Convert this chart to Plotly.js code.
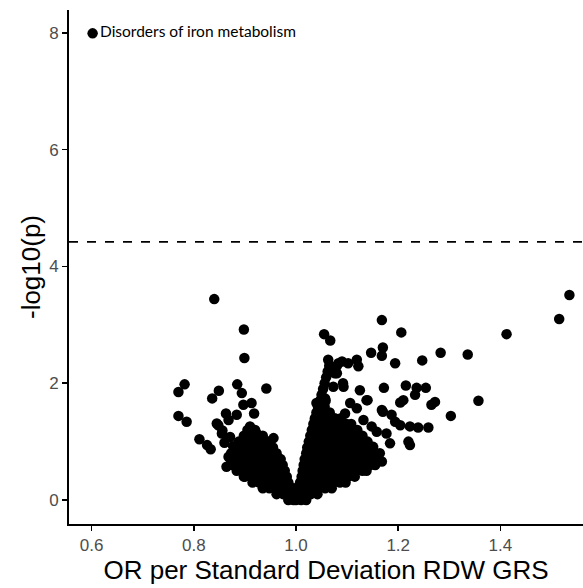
<!DOCTYPE html>
<html>
<head>
<meta charset="utf-8">
<script src="https://cdn.plot.ly/plotly-3.0.1.min.js"></script>
<style>
  html, body { margin: 0; padding: 0; background: #ffffff; }
  #chart { width: 583px; height: 588px; }
</style>
</head>
<body>
<div id="chart"></div>
<script>
// ---- Data (OR per SD of RDW GRS vs -log10(p)) ----
// Labelled top hit
const labelText = "Disorders of iron metabolism";
const labelOR = 0.602;
const labelLogP = 7.99;

// Scattered phenotypes (left of OR = 1)
const leftOR   = [0.840,0.898,0.899,0.782,0.770,0.849,0.836,0.885,0.894,0.942,0.770,0.786,0.811,0.826,0.833,0.863,0.868,0.884,0.897,0.913,0.918,0.910,0.848,0.855,0.956,0.923,0.845,0.856,0.868,0.864,0.900,0.871,0.877,0.860];
const leftLogP = [3.44, 2.92, 2.43, 1.98, 1.85, 1.87, 1.74, 1.98, 1.83, 1.91, 1.44, 1.34, 1.04, 0.94, 0.87, 1.48, 1.37, 1.46, 1.63, 1.66, 1.48, 1.26, 1.28, 1.14, 1.06, 1.14, 1.31, 1.19, 0.74, 0.57, 0.40, 1.08, 0.92, 0.98];

// Scattered phenotypes (right of OR = 1)
const rightOR   = [1.168,1.535,1.515,1.412,1.206,1.055,1.067,1.147,1.170,1.168,1.194,1.247,1.283,1.336,1.357,1.303,1.272,1.265,1.254,1.236,1.233,1.215,1.204,1.210,1.172,1.140,1.125,1.170,1.187,1.132,1.204,1.223,1.239,1.259,1.220,1.223,1.168,1.063,1.083,1.102,1.119,1.122,1.076,1.093,1.073,1.040,1.057,1.106,1.119,1.096,1.037,1.067,1.106,1.148,1.158,1.177,1.184,1.151,1.138,1.164,1.080,1.092,1.138,1.168,1.090,1.080,1.194];
const rightLogP = [3.08, 3.51, 3.10, 2.84, 2.87, 2.84, 2.73, 2.52, 2.61, 2.47, 2.34, 2.39, 2.52, 2.49, 1.70, 1.44, 1.68, 1.63, 1.92, 1.92, 1.80, 1.96, 1.67, 1.71, 1.92, 1.71, 1.88, 1.51, 1.46, 1.37, 1.28, 1.26, 1.24, 1.24, 1.00, 0.94, 0.66, 2.40, 2.34, 2.34, 2.40, 2.29, 2.17, 1.94, 1.94, 1.66, 1.74, 1.66, 1.57, 1.48, 1.37, 1.31, 1.28, 1.26, 1.17, 1.14, 0.97, 0.91, 0.80, 0.80, 2.17, 2.00, 1.71, 1.54, 2.37, 2.30, 1.34];

// Dense bulk near OR = 1, read row by row (-log10(p) level, ORs at that level)
const bulkLevels = [0.0,0.1,0.2,0.3,0.4,0.5,0.6,0.7,0.8,0.9,1.0,1.1,1.2,1.3,1.4,1.5,1.6,1.7,1.8,1.9,2.0,2.1,2.2,2.3];
const bulkLeftOR = [
  [0.985,0.995],
  [0.962,0.975,0.988,0.995],
  [0.935,0.948,0.961,0.974,0.987,0.995],
  [0.915,0.928,0.941,0.954,0.967,0.980,0.985],
  [0.898,0.911,0.924,0.937,0.950,0.963,0.976,0.982],
  [0.884,0.897,0.910,0.923,0.936,0.949,0.962,0.975,0.978],
  [0.876,0.889,0.902,0.915,0.928,0.941,0.954,0.967,0.974],
  [0.872,0.885,0.898,0.911,0.924,0.937,0.950,0.962,0.970],
  [0.873,0.886,0.899,0.912,0.925,0.938,0.951,0.962],
  [0.880,0.893,0.906,0.919,0.932,0.945,0.955],
  [0.888,0.901,0.914,0.927,0.940,0.946],
  [0.898,0.911,0.924,0.935],
  [0.905,0.920],
  [],[],[],[],[],[],[],[],[],[],[]
];
const bulkRightOR = [
  [1.000,1.010,1.020],
  [1.000,1.003,1.016,1.029,1.042],
  [1.000,1.005,1.018,1.031,1.044,1.057,1.070],
  [1.008,1.021,1.034,1.047,1.060,1.073,1.086,1.097],
  [1.011,1.024,1.037,1.050,1.063,1.076,1.089,1.102,1.115],
  [1.013,1.026,1.039,1.052,1.065,1.078,1.091,1.104,1.117,1.130,1.138],
  [1.015,1.028,1.041,1.054,1.067,1.080,1.093,1.106,1.119,1.132,1.145,1.155],
  [1.017,1.030,1.043,1.056,1.069,1.082,1.095,1.108,1.121,1.134,1.145,1.152],
  [1.020,1.033,1.046,1.059,1.072,1.085,1.098,1.111,1.124,1.137,1.148],
  [1.022,1.035,1.048,1.061,1.074,1.087,1.100,1.113,1.126,1.139,1.146],
  [1.025,1.038,1.051,1.064,1.077,1.090,1.103,1.116,1.129,1.140],
  [1.028,1.041,1.054,1.067,1.080,1.093,1.106,1.119,1.130],
  [1.031,1.044,1.057,1.070,1.083,1.096,1.109,1.120],
  [1.034,1.047,1.060,1.073,1.086,1.099,1.108],
  [1.037,1.050,1.063,1.076,1.088],
  [1.040,1.053,1.066],
  [1.043,1.056],
  [1.047,1.058],
  [1.050],
  [1.053],
  [1.056],
  [1.059],
  [1.062],
  [1.065]
];

// Significance threshold (-log10 of Bonferroni p)
const thresholdLogP = 4.42;

const xTickVals = [0.6, 0.8, 1.0, 1.2, 1.4];
const xTickText = ["0.6", "0.8", "1.0", "1.2", "1.4"];
const yTickVals = [0, 2, 4, 6, 8];
const yTickText = ["0", "2", "4", "6", "8"];

// ---- Assemble the point table ----
const allOR = [labelOR].concat(leftOR, rightOR);
const allLogP = [labelLogP].concat(leftLogP, rightLogP);
bulkLevels.forEach(function (lv, i) {
  bulkLeftOR[i].forEach(function (v) { allOR.push(v); allLogP.push(lv); });
  bulkRightOR[i].forEach(function (v) { allOR.push(v); allLogP.push(lv); });
});

const xRange = [0.5558, 1.5616];
const yRange = [-0.411, 8.39];

const traces = [
  {
    x: xRange, y: [thresholdLogP, thresholdLogP],
    mode: "lines", type: "scatter",
    line: { color: "#000000", width: 1.6, dash: "dash" },
    hoverinfo: "skip", showlegend: false
  },
  {
    x: allOR, y: allLogP,
    mode: "markers", type: "scatter",
    marker: { color: "#000000", size: 10.5, line: { width: 0 } },
    showlegend: false
  }
];

const axisFont = { family: "Liberation Sans, Arial, sans-serif", size: 17, color: "#4d4d4d" };
const titleFont = { family: "Liberation Sans, Arial, sans-serif", size: 26, color: "#000000" };

const layout = {
  width: 583, height: 588,
  margin: { l: 69, r: 0, t: 10, b: 64, pad: 0 },
  paper_bgcolor: "#ffffff", plot_bgcolor: "#ffffff",
  showlegend: false,
  xaxis: {
    range: xRange, autorange: false,
    showgrid: false, zeroline: false,
    showline: true, linecolor: "#000000", linewidth: 2,
    ticks: "outside", ticklen: 5, tickwidth: 1.5, tickcolor: "#000000",
    tickvals: xTickVals, ticktext: xTickText,
    tickfont: axisFont,
    title: { text: "OR per Standard Deviation RDW GRS", font: titleFont, standoff: 2 }
  },
  yaxis: {
    range: yRange, autorange: false,
    showgrid: false, zeroline: false,
    showline: true, linecolor: "#000000", linewidth: 2,
    ticks: "outside", ticklen: 5, tickwidth: 1.5, tickcolor: "#000000",
    tickvals: yTickVals, ticktext: yTickText,
    tickfont: axisFont,
    title: { text: "-log10(p)", font: titleFont, standoff: 1 }
  },
  annotations: [
    {
      x: labelOR, y: labelLogP, xref: "x", yref: "y",
      text: labelText, showarrow: false,
      xanchor: "left", yanchor: "middle", xshift: 5, yshift: 2,
      font: { family: "Lato, Noto Sans, sans-serif", size: 15.5, color: "#000000" }
    }
  ]
};

Plotly.newPlot("chart", traces, layout, { displayModeBar: false, staticPlot: true });
</script>
</body>
</html>
